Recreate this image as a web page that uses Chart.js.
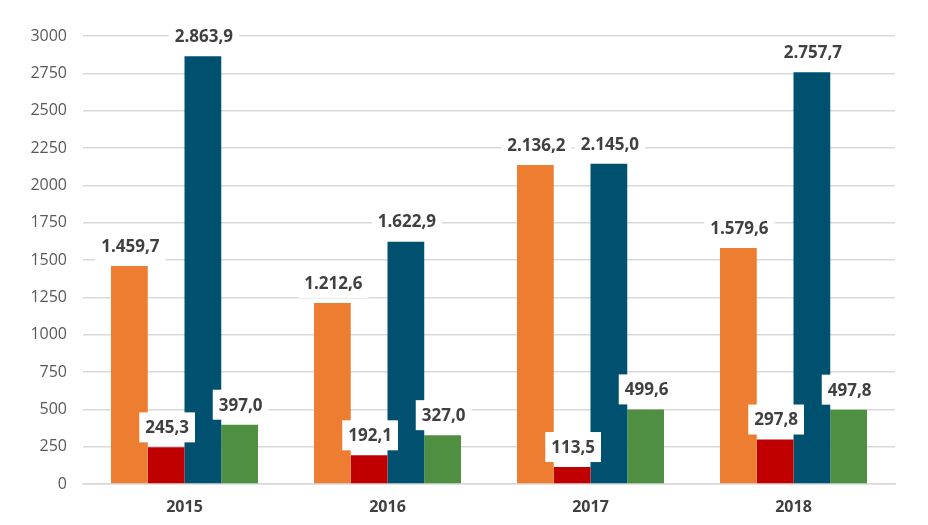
<!DOCTYPE html>
<html>
<head>
<meta charset="utf-8">
<script src="https://cdn.jsdelivr.net/npm/chart.js@4"></script>
<style>
  html, body { margin: 0; padding: 0; background: #fff; }
  #wrap { width: 928px; height: 525px; }
</style>
</head>
<body>
<div id="wrap"><canvas id="barChart" width="928" height="525"></canvas></div>
<script>
const years = ['2015', '2016', '2017', '2018'];
const seriesOrange = [1459.7, 1212.6, 2136.2, 1579.6];
const seriesRed = [245.3, 192.1, 113.5, 297.8];
const seriesBlue = [2863.9, 1622.9, 2145.0, 2757.7];
const seriesGreen = [397.0, 327.0, 499.6, 497.8];
const yTicks = [0, 250, 500, 750, 1000, 1250, 1500, 1750, 2000, 2250, 2500, 2750, 3000];

// 1.459,7 style
function fmt(v) {
    const parts = v.toFixed(1).split('.');
    const intPart = parts[0].replace(/\B(?=(\d{3})+(?!\d))/g, '.');
    return intPart + ',' + parts[1];
}

// value labels in white boxes above each bar
const boxLabels = {
    id: 'boxLabels',
    afterDatasetsDraw(chart) {
        const ctx = chart.ctx;
        ctx.save();
        ctx.font = 'bold 17px "Open Sans", sans-serif';
        ctx.textAlign = 'center';
        ctx.textBaseline = 'middle';
        chart.data.datasets.forEach((ds, i) => {
            const meta = chart.getDatasetMeta(i);
            meta.data.forEach((bar, j) => {
                const txt = fmt(ds.data[j]);
                const w = ctx.measureText(txt).width + 12;
                const h = 30;
                const cx = bar.x + 1;
                const cy = bar.y - 20;
                ctx.fillStyle = '#ffffff';
                ctx.fillRect(cx - w / 2, cy - h / 2, w, h);
                ctx.fillStyle = '#404040';
                ctx.fillText(txt, cx, cy + 1);
            });
        });
        ctx.restore();
    }
};

const ctx = document.getElementById('barChart').getContext('2d');
new Chart(ctx, {
    type: 'bar',
    data: {
        labels: years,
        datasets: [
            {data: seriesOrange, backgroundColor: '#ED7D31'},
            {data: seriesRed, backgroundColor: '#C00000'},
            {data: seriesBlue, backgroundColor: '#00516F'},
            {data: seriesGreen, backgroundColor: '#4E8F42'},
        ],
    },
    options: {
        responsive: false,
        animation: false,
        layout: {padding: {top: 36, right: 33, left: 0, bottom: 0}},
        datasets: {bar: {categoryPercentage: 0.724, barPercentage: 1.0}},
        plugins: {
            legend: {display: false},
            tooltip: {enabled: false},
        },
        scales: {
            x: {
                grid: {display: false},
                border: {color: '#d9d9d9', width: 1.5},
                ticks: {
                    color: '#404040',
                    font: {family: '"Open Sans", sans-serif', size: 16, weight: 'bold'},
                    padding: 6,
                },
                afterFit: (axis) => { axis.height = 41; },
            },
            y: {
                min: 0,
                max: 3000,
                afterBuildTicks: (axis) => { axis.ticks = yTicks.map(v => ({value: v})); },
                grid: {color: '#d9d9d9', lineWidth: 1.5, drawTicks: false},
                border: {display: false},
                ticks: {
                    color: '#595959',
                    font: {family: '"Open Sans", sans-serif', size: 16},
                    padding: 16,
                    callback: (v) => String(v),
                },
                afterFit: (axis) => { axis.width = 83; },
            },
        },
    },
    plugins: [boxLabels],
});
</script>
</body>
</html>
